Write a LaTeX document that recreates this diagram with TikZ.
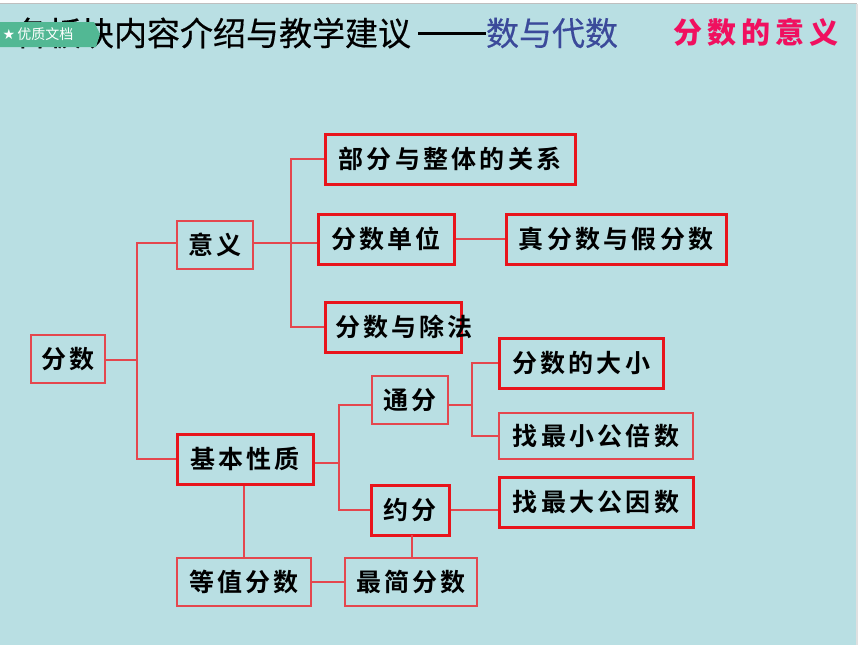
\documentclass[tikz,border=0pt]{standalone}
\usepackage{fontspec}
\setmainfont{Noto Sans CJK SC}
\newfontfamily\boxfont[LetterSpace=13,BoldFont={Noto Sans CJK SC Bold}]{Noto Sans CJK SC}
\newfontfamily\headfont[FakeBold=0.4]{Noto Sans CJK SC}
\newfontfamily\symfont{DejaVu Sans}
\usetikzlibrary{positioning}
\definecolor{pagebg}{HTML}{B9DFE3}
\definecolor{boxred}{HTML}{E8141C}
\definecolor{linered}{HTML}{E4474E}
\definecolor{badgegreen}{HTML}{52B894}
\definecolor{titleblue}{HTML}{3B4A9A}
\definecolor{titlepink}{HTML}{F0105F}
\tikzset{
  thinbox/.style={draw=linered, line width=1.2pt, inner sep=0pt, font=\boxfont\bfseries\fontsize{25}{25}\selectfont},
  thickbox/.style={thinbox, draw=boxred, line width=3pt},
  link/.style={draw=linered, line width=1.2pt},
  heading/.style={inner sep=0pt, font=\headfont\fontsize{33}{33}\selectfont}
}
\begin{document}
\begin{tikzpicture}[x=1pt,y=-1pt]
  \useasboundingbox (0,0) rectangle (860,645);
  \fill[white] (0,0) rectangle (860,645);
  \fill[pagebg] (0,4) rectangle (856,645);
  \fill[black!12] (856,4) rectangle (858,645);
  \draw[black!25, line width=0.8pt] (0,3) -- (857,3);

  \node[heading, text=black] (head) at (213,33) {各板块内容介绍与教学建议};
  \node[heading, text=titleblue] (headblue) at (552,33) {数与代数};
  \draw[line width=3pt] (head.east) ++(7,0) coordinate (dashstart) -- (headblue.west);
  \node[heading, text=titlepink, font=\bfseries\fontsize{29}{29}\selectfont] (headpink) at (756,32) {分\,数\,的\,意\,义};
  \fill[badgegreen] (0,22) -- (94,22) -- (100,34) -- (96,47) -- (0,47) -- cycle;
  \node[text=white, inner sep=0pt, font=\fontsize{14}{14}\selectfont] (badge) at (38,34) {{\symfont ★}\,优质文档};

  \node[thinbox, minimum width=74pt, minimum height=48pt] (fenshu) at (68,359) {分数};
  \node[thinbox, minimum width=76pt, minimum height=48pt] (yiyi) at (215,245) {意义};
  \node[thickbox, minimum width=136pt, minimum height=50pt] (jiben) at (245,459) {基本性质};
  \node[thickbox, minimum width=250pt, minimum height=50pt] (zhengti) at (450,159) {部分与整体的关系};
  \node[thickbox, minimum width=136pt, minimum height=50pt] (danwei) at (386,239) {分数单位};
  \node[thickbox, minimum width=220pt, minimum height=50pt] (zhenjia) at (616,239) {真分数与假分数};
  \node[thickbox, minimum width=136pt, minimum height=50pt, text width=136pt, align=left] (chufa) at (393,327) {\hspace*{10pt}\mbox{分数与除法}};
  \node[thinbox, minimum width=76pt, minimum height=48pt] (tongfen) at (410,400) {通分};
  \node[thickbox, minimum width=78pt, minimum height=50pt] (yuefen) at (410,510) {约分};
  \node[thickbox, minimum width=164pt, minimum height=50pt] (daxiao) at (581,363) {分数的大小};
  \node[thinbox, minimum width=194pt, minimum height=46pt] (beishu) at (596,436) {找最小公倍数};
  \node[thickbox, minimum width=194pt, minimum height=50pt] (yinshu) at (596,502) {找最大公因数};
  \node[thinbox, minimum width=134pt, minimum height=48pt] (dengzhi) at (244,582) {等值分数};
  \node[thinbox, minimum width=132pt, minimum height=48pt] (zuijian) at (411,582) {最简分数};

  \coordinate (forkfen) at (137,360);
  \coordinate (forkyi) at (291,243);
  \coordinate (forkji) at (339,463);
  \coordinate (forktong) at (472,405);
  \coordinate (forkyue) at (412,535);

  \begin{scope}[link]
    \draw (fenshu.east |- forkfen) -- (forkfen);
    \draw (yiyi.west |- forkyi) -| (forkfen) |- (jiben.west);
    \draw (yiyi.east |- forkyi) -- (danwei.west |- forkyi);
    \draw (zhengti.west) -| (forkyi) |- (chufa.west);
    \draw (danwei) -- (zhenjia);
    \draw (jiben.east |- forkji) -- (forkji);
    \draw (tongfen.west |- forktong) -| (forkji) |- (yuefen.west);
    \draw (tongfen.east |- forktong) -- (forktong);
    \draw (daxiao.west) -| (forktong) |- (beishu.west);
    \draw (yuefen.east) -- (yuefen.east -| yinshu.west);
    \draw (jiben.south -| dengzhi.north) -- (dengzhi.north);
    \draw (dengzhi) -- (zuijian);
    \draw (forkyue) -- (forkyue |- zuijian.north);
  \end{scope}
\end{tikzpicture}
\end{document}
